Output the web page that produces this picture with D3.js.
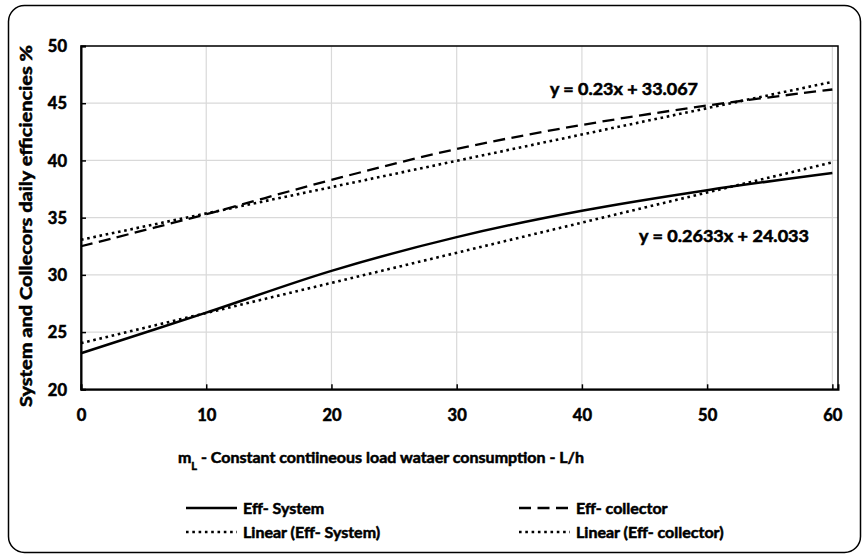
<!DOCTYPE html>
<html>
<head>
<meta charset="utf-8">
<script src="https://cdn.jsdelivr.net/npm/d3@7"></script>
<style>
  html, body { margin: 0; padding: 0; background: #fff; }
  svg { display: block; font-family: Lato, "Open Sans", sans-serif; font-weight: 700; }
  svg text { stroke: #000; stroke-width: 0.55px; paint-order: stroke; }
</style>
</head>
<body>
<svg id="chart" width="868" height="558"></svg>
<script>
// Load flow rates (L/h) and measured daily efficiencies (%)
const flowRates = [0, 10, 20, 30, 40, 50, 60];
const effSystem = [23.15, 26.7, 30.35, 33.3, 35.6, 37.4, 38.9];
const effCollector = [32.5, 35.3, 38.3, 41.0, 43.1, 44.8, 46.2];

// Least-squares trend lines: y = slope * x + intercept
const trendNames = ["Linear (Eff- System)", "Linear (Eff- collector)"];
const trendSlopes = [0.2633, 0.23];
const trendIntercepts = [24.033, 33.067];
const trendLabels = ["y = 0.2633x + 24.033", "y = 0.23x + 33.067"];

const xTicks = [0, 10, 20, 30, 40, 50, 60];
const yTicks = [20, 25, 30, 35, 40, 45, 50];

const svg = d3.select("#chart");

// Outer rounded frame
svg.append("rect")
  .attr("x", 8.5).attr("y", 5.5)
  .attr("width", 852).attr("height", 547)
  .attr("rx", 16).attr("ry", 16)
  .attr("fill", "#fff").attr("stroke", "#000").attr("stroke-width", 1.5);

const x = d3.scaleLinear().domain([0, 60.45]).range([81, 838]);
const y = d3.scaleLinear().domain([20, 50]).range([389.3, 46]);

// Gridlines
const grid = svg.append("g").attr("stroke", "#d9d9d9").attr("stroke-width", 1.2);
grid.selectAll(".gx").data(xTicks.slice(1)).join("line")
  .attr("x1", d => x(d)).attr("x2", d => x(d))
  .attr("y1", y(20)).attr("y2", y(50));
grid.selectAll(".gy").data(yTicks.slice(1)).join("line")
  .attr("x1", x(0)).attr("x2", x(60.45))
  .attr("y1", d => y(d)).attr("y2", d => y(d));

// Plot-area border
svg.append("rect")
  .attr("x", x(0)).attr("y", y(50))
  .attr("width", x(60.45) - x(0)).attr("height", y(20) - y(50))
  .attr("fill", "none").attr("stroke", "#000").attr("stroke-width", 1.5);

// Axes with inward ticks
const xAxis = d3.axisBottom(x).tickValues(xTicks).tickSize(-5).tickPadding(20).tickFormat(d3.format("d"));
const gx = svg.append("g").attr("transform", `translate(0,${y(20)})`).call(xAxis);
const yAxis = d3.axisLeft(y).tickValues(yTicks).tickSize(-5).tickPadding(14).tickFormat(d3.format("d"));
const gy = svg.append("g").attr("transform", `translate(${x(0)},0)`).call(yAxis);
[gx, gy].forEach(g => {
  g.select(".domain").attr("stroke", "#000").attr("stroke-width", 2);
  g.selectAll(".tick line").attr("stroke", "#000").attr("stroke-width", 1.5);
  g.selectAll(".tick text").attr("fill", "#000")
    .style("font-family", "Lato, sans-serif").style("font-weight", 700).style("font-size", "16.5px");
});
gy.selectAll(".tick text").attr("dy", "0.35em");

// Series lines
const pts = s => flowRates.map((f, i) => [f, s[i]]);
const smooth = d3.line().x(d => x(d[0])).y(d => y(d[1])).curve(d3.curveCatmullRom.alpha(0.5));
const straight = d3.line().x(d => x(d[0])).y(d => y(d[1]));

const trendPts = i => [0, 60].map(f => [f, trendSlopes[i] * f + trendIntercepts[i]]);

const lines = svg.append("g").attr("fill", "none").attr("stroke", "#000");
lines.append("path").attr("d", straight(trendPts(0)))
  .attr("stroke-width", 2.6).attr("stroke-dasharray", "2.6,3.7");
lines.append("path").attr("d", straight(trendPts(1)))
  .attr("stroke-width", 2.6).attr("stroke-dasharray", "2.6,3.7");
lines.append("path").attr("d", smooth(pts(effSystem)))
  .attr("stroke-width", 2.5);
lines.append("path").attr("d", smooth(pts(effCollector)))
  .attr("stroke-width", 2.3).attr("stroke-dasharray", "12,6.5");

// Trend equations
const eq = svg.append("g").style("font-size", "17px").attr("fill", "#000");
eq.append("text").attr("x", 550).attr("y", 89).attr("dy", "0.35em")
  .attr("textLength", 148).attr("lengthAdjust", "spacingAndGlyphs").text(trendLabels[1]);
eq.append("text").attr("x", 639).attr("y", 236).attr("dy", "0.35em")
  .attr("textLength", 170).attr("lengthAdjust", "spacingAndGlyphs").text(trendLabels[0]);

// Axis titles
const xt = svg.append("text").attr("x", 381).attr("y", 457).attr("dy", "0.35em")
  .attr("text-anchor", "middle").style("font-size", "16px").attr("fill", "#000");
xt.append("tspan").text("m");
xt.append("tspan").attr("baseline-shift", "sub").style("font-size", "11px").text("L");
xt.append("tspan").text(" - Constant contiineous load wataer consumption - L/h");

svg.append("text")
  .attr("transform", "translate(26,226) rotate(-90)")
  .attr("dy", "0.35em").attr("text-anchor", "middle")
  .style("font-size", "17px").attr("fill", "#000")
  .attr("textLength", 362).attr("lengthAdjust", "spacingAndGlyphs")
  .text("System and Collecors daily efficiencies %");

// Legend
const legendItems = [
  { name: "Eff- System", col: 0, row: 0, dash: null, w: 2.5 },
  { name: "Eff- collector", col: 1, row: 0, dash: "12,6.5", w: 2.3 },
  { name: trendNames[0], col: 0, row: 1, dash: "2.6,3.7", w: 2.6 },
  { name: trendNames[1], col: 1, row: 1, dash: "2.6,3.7", w: 2.6 }
];
const lg = svg.append("g");
const item = lg.selectAll("g").data(legendItems).join("g")
  .attr("transform", d => `translate(${186 + d.col * 333},${508 + d.row * 24})`);
item.append("line")
  .attr("x1", 0).attr("x2", 51)
  .attr("stroke", "#000").attr("stroke-width", d => d.w)
  .attr("stroke-dasharray", d => d.dash);
item.append("text").attr("x", 57).attr("dy", "0.35em")
  .style("font-size", "16px").attr("fill", "#000").text(d => d.name);
</script>
</body>
</html>
